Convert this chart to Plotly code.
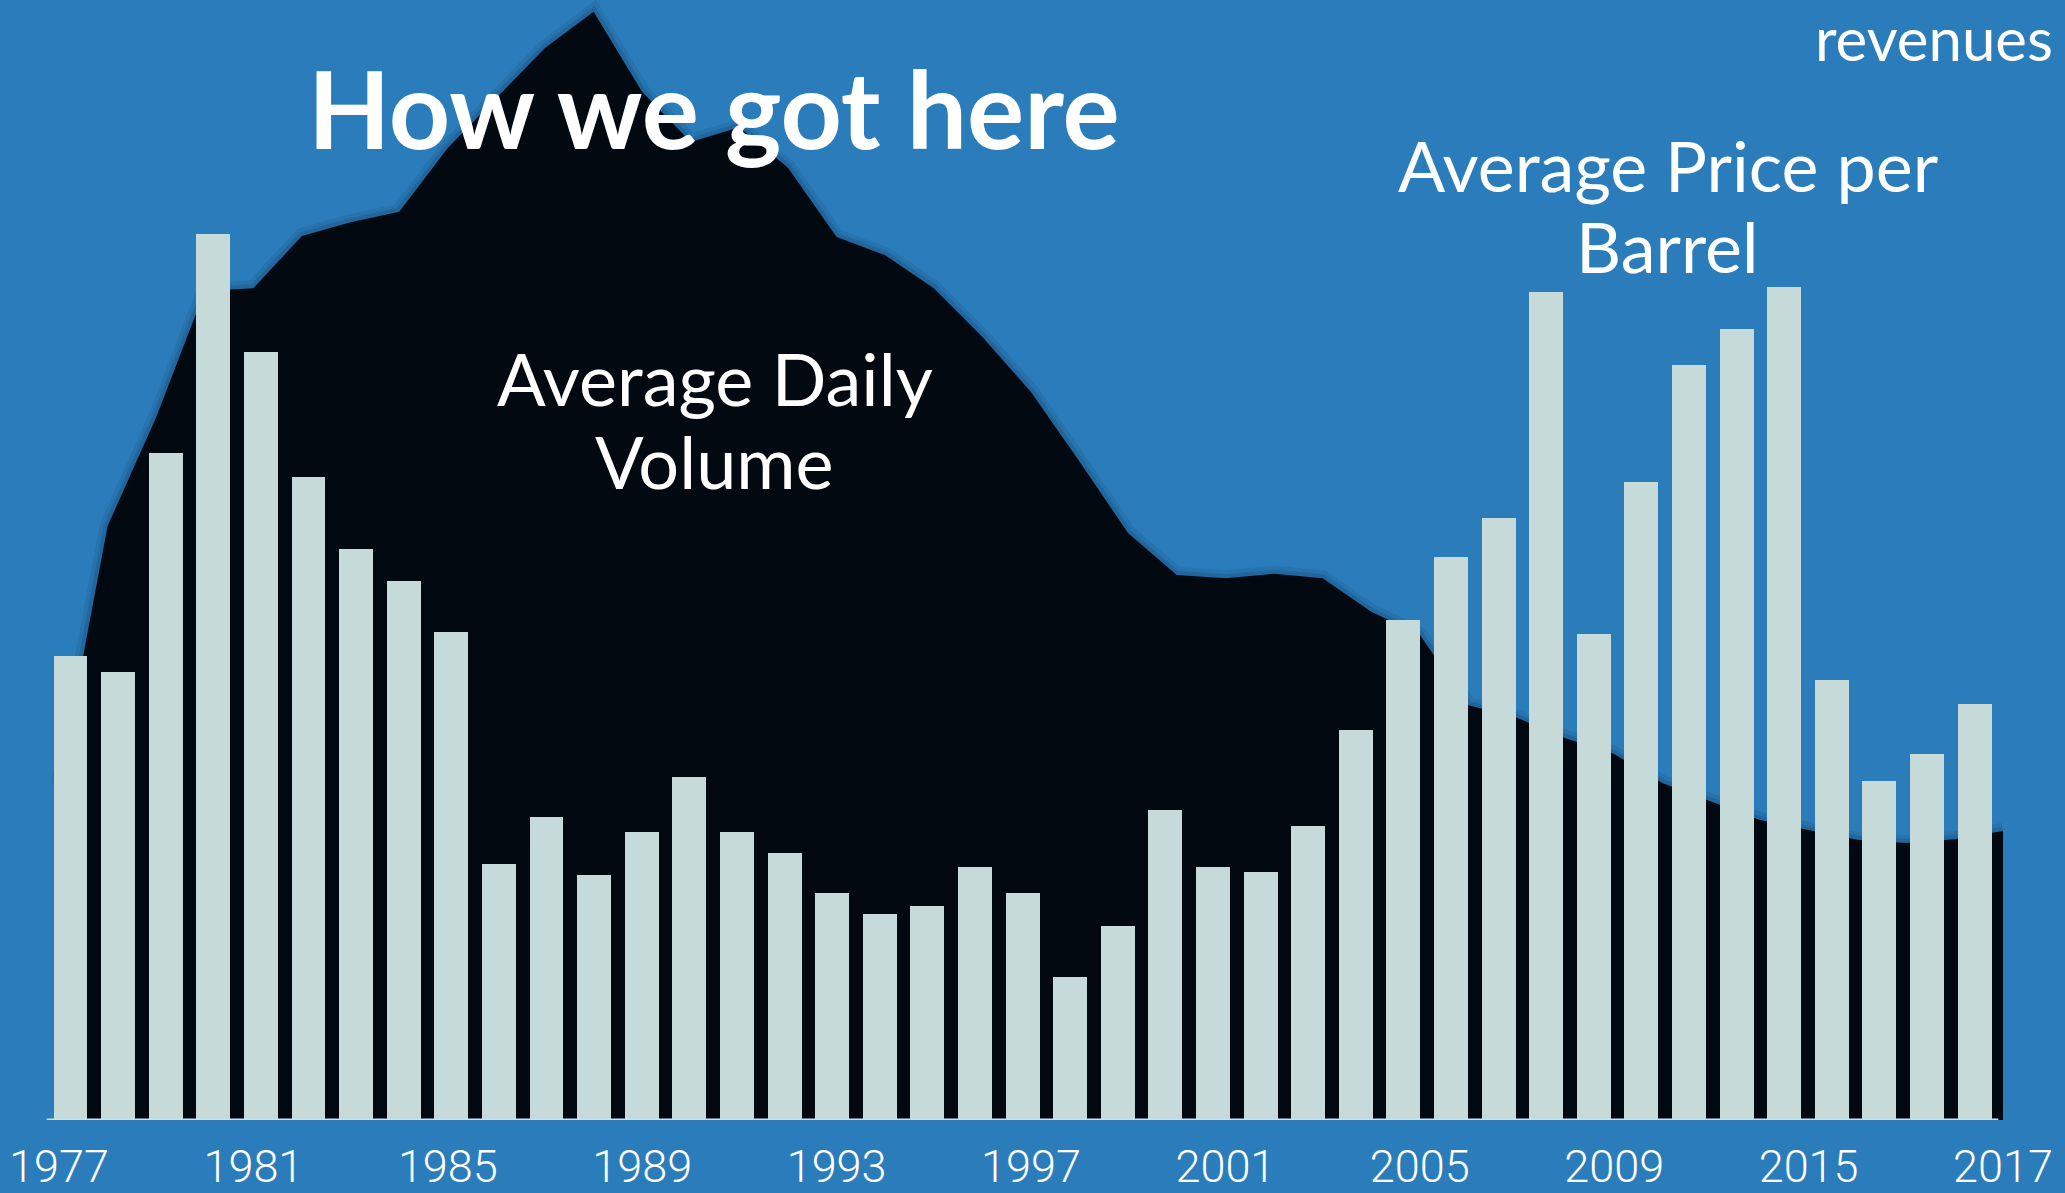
import plotly.graph_objects as go

# Alaska oil: daily volume (thousand barrels/day) and average price per barrel ($)
years = list(range(1977, 2018))
volume = [610, 1081, 1279, 1509, 1514, 1609, 1634, 1653, 1769, 1860,
          1951, 2017, 1871, 1780, 1807, 1733, 1607, 1574, 1514, 1425,
          1325, 1198, 1068, 992, 986, 994, 986, 925, 883, 755,
          732, 695, 666, 613, 579, 546, 528, 510, 504, 511, 526]
price = [58.0, 56.0, 83.4, 110.8, 96.0, 80.4, 71.4, 67.4, 61.0, 32.0,
         37.9, 30.6, 36.0, 42.9, 36.0, 33.4, 28.4, 25.8, 26.8, 31.6,
         28.4, 17.9, 24.3, 38.8, 31.6, 31.0, 36.8, 48.8, 62.5, 70.4,
         75.3, 103.5, 60.8, 79.8, 94.4, 98.9, 104.1, 55.0, 42.4, 45.8, 52.0]
tick_years = [1977, 1981, 1985, 1989, 1993, 1997, 2001, 2005, 2009, 2013, 2017]
tick_text = ["1977", "1981", "1985", "1989", "1993", "1997", "2001", "2005", "2009", "2015", "2017"]

bg = '#2a7dba'
area_color = '#020911'
bar_color = '#c6dad9'

fig = go.Figure()

# soft shadow along the volume outline
for w, a in [(16, 0.10), (8, 0.14)]:
    fig.add_trace(go.Scatter(x=years, y=volume, mode="lines",
                             line=dict(width=w, color=f"rgba(5,30,60,{a})"),
                             hoverinfo="skip", showlegend=False))

# Volume as a filled area (base axes, drawn underneath)
fig.add_trace(go.Scatter(x=years, y=volume, mode="lines", fill="tozeroy",
                         line=dict(width=0, color=area_color), fillcolor=area_color,
                         hoverinfo="skip", showlegend=False))

# Price as bars (overlay axes, drawn on top)
fig.add_trace(go.Bar(x=years, y=price, width=0.714, marker=dict(color=bar_color, line=dict(width=0)),
                     xaxis="x2", yaxis="y2", showlegend=False))

fig.update_layout(
    width=2065, height=1193,
    margin=dict(l=0, r=0, t=0, b=73),
    paper_bgcolor=bg, plot_bgcolor=bg,
    xaxis=dict(range=[1975.786, 2018.276], tickvals=tick_years, ticktext=tick_text,
               showgrid=False, zeroline=False, showline=False, ticks="", automargin=False,
               ticklabelstandoff=16,
               tickfont=dict(family="Roboto", size=45, color="white", weight=300)),
    yaxis=dict(range=[0, 2038.4], visible=False),
    xaxis2=dict(range=[1975.519, 2018.901], overlaying="x", visible=False),
    yaxis2=dict(range=[0, 140], overlaying="y", visible=False),
    bargap=0,
)

# baseline under the bars
fig.add_shape(type="line", xref="x2", yref="y2", x0=years[0] - 0.5, x1=years[-1] + 0.5, y0=0, y1=0,
              line=dict(color="#d5dfe0", width=3))

# text labels
labels = [
    ("<b>How we got here</b>", 0.3458, 0.9036, 107),
    ("Average Daily", 0.3462, 0.6625, 72),
    ("Volume", 0.3462, 0.5884, 72),
    ("Average Price per", 0.8077, 0.8527, 70),
    ("Barrel", 0.8077, 0.7804, 70),
]
for txt, lx, ly, sz in labels:
    fig.add_annotation(text=txt, x=lx, y=ly, xref="paper", yref="paper",
                       xanchor="center", yanchor="middle", showarrow=False,
                       font=dict(family="Lato", size=sz, color="white"))
fig.add_annotation(text="revenues", x=0.9952, y=1.0, xref="paper", yref="paper",
                   xanchor="right", yanchor="top", showarrow=False,
                   font=dict(family="Lato", size=60, color="white"))

fig.write_html("out.html", config={"displayModeBar": False},
               post_script="document.body.style.margin='0';document.body.style.background='" + bg + "';")
